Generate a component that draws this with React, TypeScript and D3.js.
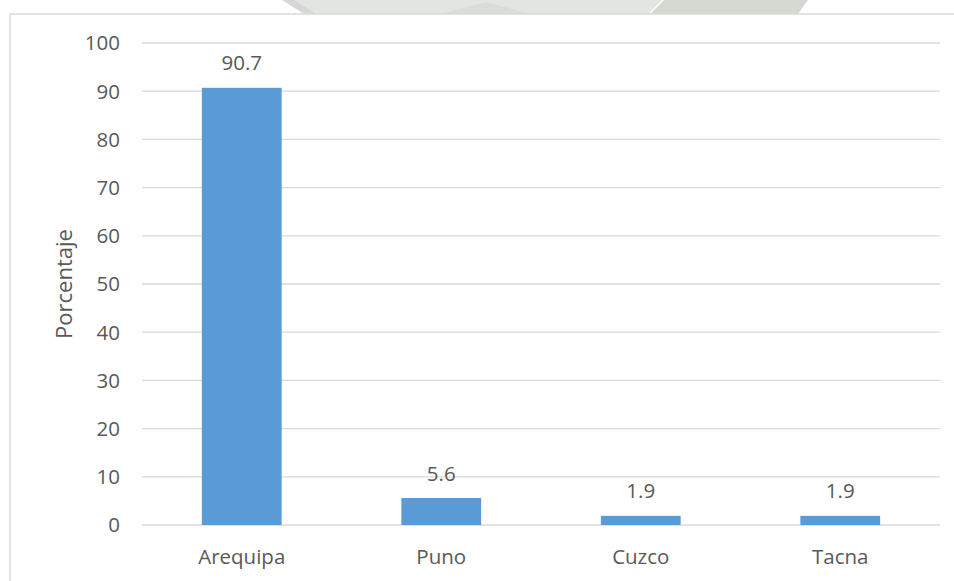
import React from "react";
import * as d3 from "d3";

const categories = ["Arequipa", "Puno", "Cuzco", "Tacna"];
const values = [90.7, 5.6, 1.9, 1.9];
const valueLabels = ["90.7", "5.6", "1.9", "1.9"];
const yTicks = [0, 10, 20, 30, 40, 50, 60, 70, 80, 90, 100];
const yTitle = "Porcentaje";

const W = 954;
const H = 581;
const FONT = "'Open Sans', 'Noto Sans', sans-serif";
const TEXT = "#595959";
const GRID = "#d9d9d9";
const BAR = "#5b9bd5";
const FS = 20.5;

export default function App() {
  const x = d3
    .scaleBand<string>()
    .domain(categories)
    .range([142, 940])
    .paddingInner(0.6)
    .paddingOuter(0.3);
  const y = d3.scaleLinear().domain([0, 100]).range([525, 43]);

  return (
    <svg
      width={W}
      height={H}
      style={{ position: "absolute", left: 0, top: 0, background: "#fff" }}
      fontFamily={FONT}
    >
      {/* faint decorative shapes above the chart frame */}
      <g>
        <polygon points="292,0 662,0 648,14 314,14" fill="#e3e5e2" />
        <polygon points="282,0 294,0 316,14 304,14" fill="#d6d8d5" />
        <polygon points="440,14 486,2 530,14" fill="#d9ddd7" />
        <polygon points="664,0 808,0 798,14 650,14" fill="#d4d9d1" />
      </g>

      {/* chart frame */}
      <rect x={10} y={14} width={960} height={600} fill="#fff" stroke={GRID} strokeWidth={1.5} />

      {/* horizontal gridlines */}
      {yTicks.map((t) => (
        <line key={t} x1={142} x2={940} y1={y(t)} y2={y(t)} stroke={GRID} strokeWidth={1.3} />
      ))}

      {/* y tick labels */}
      {yTicks.map((t) => (
        <text key={t} x={120} y={y(t)} dy="0.36em" textAnchor="end" fontSize={FS} fill={TEXT}>
          {t}
        </text>
      ))}

      {/* bars */}
      {categories.map((c, i) => (
        <rect
          key={c}
          x={x(c)}
          y={y(values[i])}
          width={x.bandwidth()}
          height={y(0) - y(values[i])}
          fill={BAR}
        />
      ))}

      {/* value labels */}
      {categories.map((c, i) => (
        <text
          key={c}
          x={(x(c) as number) + x.bandwidth() / 2}
          y={y(values[i]) - 17.5}
          textAnchor="middle"
          fontSize={FS}
          fill={TEXT}
        >
          {valueLabels[i]}
        </text>
      ))}

      {/* category labels */}
      {categories.map((c) => (
        <text
          key={c}
          x={(x(c) as number) + x.bandwidth() / 2}
          y={564}
          textAnchor="middle"
          fontSize={FS}
          fill={TEXT}
        >
          {c}
        </text>
      ))}

      {/* y axis title */}
      <text
        transform={`translate(72, ${(y(0) + y(100)) / 2}) rotate(-90)`}
        textAnchor="middle"
        fontSize={22}
        fill={TEXT}
      >
        {yTitle}
      </text>
    </svg>
  );
}
